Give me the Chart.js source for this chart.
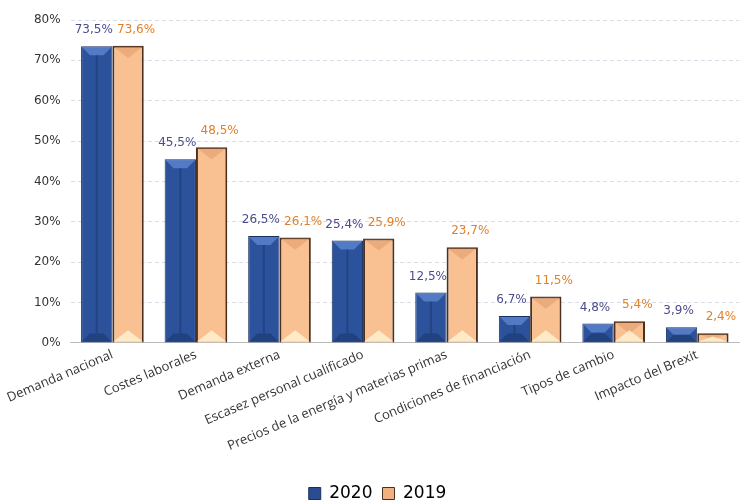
<!DOCTYPE html>
<html><head><meta charset="utf-8">
<script src="https://cdn.jsdelivr.net/npm/chart.js@4/dist/chart.umd.min.js"></script>
<style>html,body{margin:0;padding:0;background:#fff}#wrap{width:741px;height:502px}</style>
</head><body><div id="wrap"><canvas id="c"></canvas></div>
<script>
const categories = ["Demanda nacional","Costes laborales","Demanda externa","Escasez personal cualificado","Precios de la energía y materias primas","Condiciones de financiación","Tipos de cambio","Impacto del Brexit"];
const values2020 = [73.5,45.5,26.5,25.4,12.5,6.7,4.8,3.9];
const values2019 = [73.6,48.5,26.1,25.9,23.7,11.5,5.4,2.4];
const yTicks = [0,10,20,30,40,50,60,70,80];
const seriesNames = ["2020","2019"];

function fmt(v){return v.toFixed(1).replace('.',',')+'%';}

function grad(ctx, stops){
  const el = ctx.element; const chart = ctx.chart;
  if(!el || el.width===undefined || !chart.chartArea) return stops[1];
  const x0 = el.x - el.width/2, x1 = el.x + el.width/2;
  if(!isFinite(x0)||!isFinite(x1)||x1<=x0) return stops[1];
  const g = chart.ctx.createLinearGradient(x0,0,x1,0);
  g.addColorStop(0,stops[0]); g.addColorStop(0.45,stops[1]); g.addColorStop(1,stops[2]);
  return g;
}

const bevelPlugin = {
  id:'bevel',
  afterDatasetsDraw(chart){
    const ctx = chart.ctx;
    chart.data.datasets.forEach((ds,i)=>{
      const meta = chart.getDatasetMeta(i);
      meta.data.forEach((bar)=>{
        const l = bar.x-bar.width/2+1, r = bar.x+bar.width/2-1, t = bar.y+1, b = bar.base-1;
        const h = Math.min(8, (b-t)/2);
        if(h<=1) return;
        ctx.save();
        if(i===0){
          ctx.fillStyle='rgba(110,150,225,0.6)';
          ctx.beginPath();ctx.moveTo(l,t);ctx.lineTo(r,t);ctx.lineTo(r-h,t+h);ctx.lineTo(l+h,t+h);ctx.closePath();ctx.fill();
          ctx.fillStyle='rgba(10,25,60,0.3)';
          ctx.beginPath();ctx.moveTo(l,b);ctx.lineTo(r,b);ctx.lineTo(r-h,b-h);ctx.lineTo(l+h,b-h);ctx.closePath();ctx.fill();
          ctx.fillStyle='rgba(10,25,60,0.25)';
          ctx.fillRect(bar.x-1, t+h, 2, Math.max(0,b-t-2*h));
        } else {
          ctx.fillStyle='rgba(215,140,90,0.4)';
          ctx.beginPath();ctx.moveTo(l,t);ctx.lineTo(r,t);ctx.lineTo(bar.x,t+h*1.4);ctx.closePath();ctx.fill();
          ctx.fillStyle='rgba(255,238,205,0.9)';
          ctx.beginPath();ctx.moveTo(l,b);ctx.lineTo(r,b);ctx.lineTo(bar.x,b-h*1.4);ctx.closePath();ctx.fill();
        }
        ctx.restore();
      });
    });
  }
};

const labelPlugin = {
  id:'vlabels',
  afterDatasetsDraw(chart){
    const ctx = chart.ctx;
    const colors = ['#4b4b8f','#e0802a'];
    const shift = [-3, 8];
    chart.data.datasets.forEach((ds,i)=>{
      const meta = chart.getDatasetMeta(i);
      meta.data.forEach((bar,j)=>{
        ctx.save();
        ctx.font = '12px "DejaVu Sans"';
        ctx.fillStyle = colors[i];
        ctx.textAlign='center'; ctx.textBaseline='bottom';
        ctx.fillText(fmt(ds.data[j]), bar.x+shift[i], bar.y-10);
        ctx.restore();
      });
    });
  }
};

new Chart(document.getElementById('c'),{
  type:'bar',
  data:{labels:categories,datasets:[
    {label:seriesNames[0],data:values2020,backgroundColor:(c)=>grad(c,['#3a64b2','#2c529c','#1a346e']),borderColor:'#1a2f5e',borderWidth:1,categoryPercentage:0.75,barPercentage:1.0},
    {label:seriesNames[1],data:values2019,backgroundColor:(c)=>grad(c,['#f0a670','#f9c092','#eea46e']),borderColor:'#4a3020',borderWidth:2,categoryPercentage:0.75,barPercentage:1.0}
  ]},
  options:{
    responsive:true,maintainAspectRatio:false,animation:false,
    layout:{padding:{left:16,right:2,top:20,bottom:-10}},
    plugins:{
      legend:{position:'bottom',labels:{font:{family:'"DejaVu Sans"',size:17},color:'#222',boxWidth:12,boxHeight:12,padding:10,
        generateLabels(chart){return chart.data.datasets.map((d,i)=>({text:d.label,fillStyle:i===0?'#2a4c90':'#f2b080',strokeStyle:i===0?'#1a2f5e':'#4a3020',lineWidth:1,datasetIndex:i}));}}},
      tooltip:{enabled:false}
    },
    scales:{
      x:{grid:{display:false,drawTicks:false},border:{color:'#bbb'},
        afterFit(scale){scale.height += 17;},
        ticks:{maxRotation:23,minRotation:23,autoSkip:false,color:'#333',font:{family:'"Open Sans"',size:13},padding:4}},
      y:{min:0,max:80,afterBuildTicks(ax){ax.ticks=yTicks.map(v=>({value:v}));},
        grid:{color:'#d8dde8',drawTicks:false},border:{display:false,dash:[4,3]},
        ticks:{callback:v=>v+'%',color:'#333',font:{family:'"DejaVu Sans"',size:12},padding:10}}
    }
  },
  plugins:[bevelPlugin,labelPlugin]
});
</script></body></html>
